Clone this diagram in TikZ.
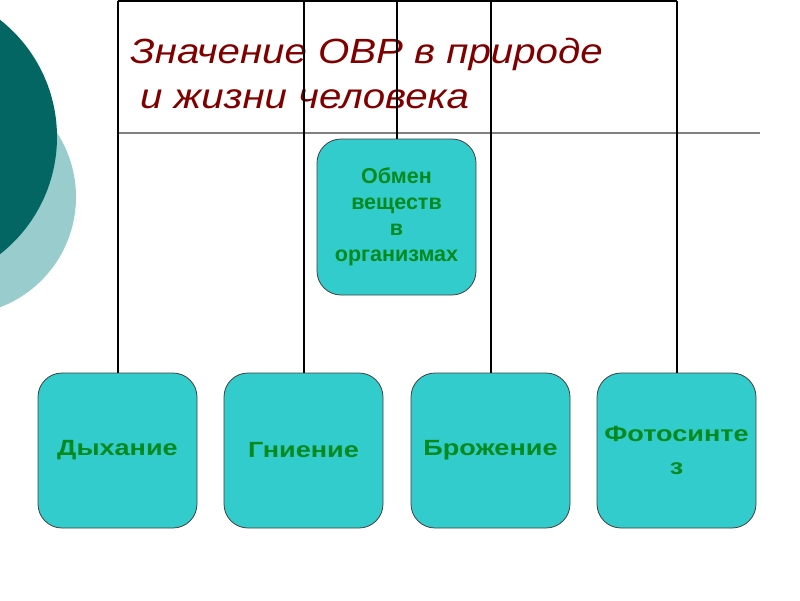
\documentclass[tikz,border=0pt]{standalone}
\usepackage{fontspec}
\setmainfont{Liberation Sans}
\newfontfamily\shirfont[FakeStretch=1.15]{Liberation Sans}
\newfontfamily\blokfont[FakeStretch=1.23]{Liberation Sans}
\usetikzlibrary{positioning}
\definecolor{biryuza}{HTML}{33CCCC}
\definecolor{temnyi}{HTML}{036663}
\definecolor{svetlyi}{HTML}{99CCCC}
\definecolor{zelen}{HTML}{008A1E}
\definecolor{bordo}{HTML}{800000}
\tikzset{
  blok/.style={draw=black!75,line width=0.8pt,fill=biryuza,rounded corners=24pt,
    minimum width=159pt,minimum height=155pt,inner sep=0pt,align=center,text=zelen,
    font=\blokfont\bfseries\fontsize{22}{33}\selectfont},
  sredn/.style={blok,minimum height=156pt,font=\bfseries\fontsize{21.5}{26}\selectfont},
  liniya/.style={line width=2pt,black},
  zag/.style={anchor=base west,inner sep=0pt,text=bordo,
    font=\shirfont\itshape\fontsize{35}{45}\selectfont},
}
\begin{document}
\begin{tikzpicture}[x=1pt,y=-1pt]
  \path[use as bounding box,fill=white] (0,0) rectangle (800,600);
  % krugi sleva
  \begin{scope}
    \clip (0,0) rectangle (800,600);
    \fill[svetlyi] (-42,197) circle (118);
    \fill[temnyi] (-92,137) circle (149);
  \end{scope}
  % verkhnie tochki linii
  \coordinate (v1) at (117.5,1);
  \coordinate (v2) at (303.5,1);
  \coordinate (vc) at (396.5,1);
  \coordinate (v3) at (490.5,1);
  \coordinate (v4) at (676.5,1);
  \draw[liniya] (v1) -- (v4);
  \draw[gray,line width=1.2pt] (118,133) -- (760,133);
  \node[zag] (zag1) at (130,63) {Значение ОВР в природе};
  \node[zag] (zag2) at (140,108) {и жизни человека};
  % bloki
  \node[sredn] (obmen) at (396.5,217) {Обмен\\веществ\\в\\организмах};
  \node[blok] (dykh) at (117.5,450.5) {Дыхание};
  \node[blok] (gnien) at (303.5,450.5) {Гниение};
  \node[blok] (brozh) at (490.5,450.5) {Брожение};
  \node[blok] (foto) at (676.5,450.5) {Фотосинте\\з};
  \foreach \v/\b in {v1/dykh,v2/gnien,v3/brozh,v4/foto}
    \draw[liniya] (\v) -- (\b);
  \draw[liniya] (vc) -- (obmen);
\end{tikzpicture}
\end{document}
